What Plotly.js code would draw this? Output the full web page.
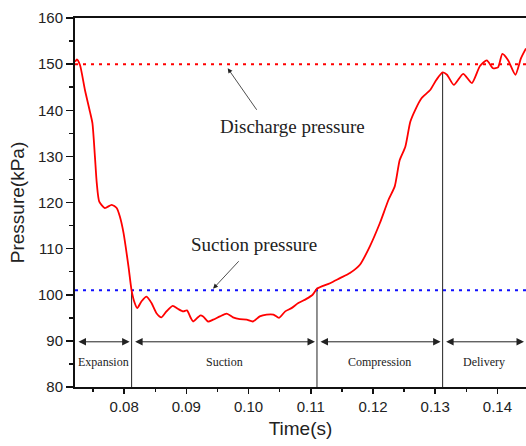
<!DOCTYPE html>
<html>
<head>
<meta charset="utf-8">
<script src="https://cdn.plot.ly/plotly-3.0.1.min.js"></script>
<style>html,body{margin:0;padding:0;background:#fff;}#chart{width:526px;height:446px;}</style>
</head>
<body>
<div id="chart"></div>
<script>
// ---- data ----
const time = [0.0721,0.0724,0.0729,0.0737,0.0745,0.0749,0.0753,0.0756,0.0760,0.0769,0.0780,0.0788,0.0793,0.0799,0.0807,0.0812,0.0817,0.0821,0.0828,0.0836,0.0844,0.0852,0.0860,0.0868,0.0878,0.0887,0.0895,0.0901,0.0907,0.0911,0.0922,0.0927,0.0935,0.0943,0.0954,0.0965,0.0975,0.0986,0.0997,0.1007,0.1018,0.1029,0.1040,0.1049,0.1059,0.1069,0.1080,0.1093,0.1103,0.1110,0.1131,0.1147,0.1163,0.1179,0.1195,0.1211,0.1225,0.1235,0.1243,0.1252,0.1260,0.1268,0.1278,0.1292,0.1302,0.1312,0.1319,0.1330,0.1345,0.1359,0.1372,0.1383,0.1393,0.1401,0.1408,0.1417,0.1429,0.1438,0.1446];
const pressure = [150.5,151.0,149.8,144.4,139.7,137.2,130.0,124.2,120.2,118.8,119.5,118.8,117.0,113.4,106.1,100.9,98.2,97.1,98.6,99.6,98.2,96.0,95.1,96.4,97.6,96.9,96.4,96.6,95.0,94.2,95.5,95.3,94.2,94.6,95.3,95.9,95.1,94.7,94.6,94.2,95.3,95.7,95.7,95.0,96.4,97.1,98.2,99.1,100.0,101.3,102.5,103.6,104.7,106.5,110.5,115.5,120.6,123.5,129.2,132.1,137.5,140.1,142.6,144.4,146.6,148.2,147.7,145.5,147.9,145.9,149.6,150.8,149.1,149.3,152.2,150.9,147.7,151.3,153.4];

const dischargePressure = 150;
const suctionPressure = 101;

const phaseNames = ["Expansion","Suction","Compression","Delivery"];
const phaseBoundaries = [0.0812, 0.1110, 0.1312];     // s
const boundaryTops = [100.9, 101.5, 148.2];           // kPa, where the boundary meets the curve
const phaseArrowLevel = 89.8;                          // kPa
const phaseLabelLevel = 85.4;                          // kPa

const xTickVals = [0.08,0.09,0.10,0.11,0.12,0.13,0.14];
const xTickText = ["0.08","0.09","0.10","0.11","0.12","0.13","0.14"];
const yTickVals = [80,90,100,110,120,130,140,150,160];

const xRange = [0.0721, 0.1446];
const yRange = [80, 160];

// ---- traces ----
const traces = [];
phaseBoundaries.forEach((b,i)=>{
  traces.push({x:[b,b], y:[yRange[0], boundaryTops[i]], mode:'lines',
    line:{color:'#222', width:1}, hoverinfo:'skip', showlegend:false});
});
traces.push({x:xRange, y:[dischargePressure,dischargePressure], mode:'lines',
  line:{color:'#ff0000', width:2, dash:'3px,5px'}, showlegend:false, hoverinfo:'skip'});
traces.push({x:xRange, y:[suctionPressure,suctionPressure], mode:'lines',
  line:{color:'#1010ff', width:2, dash:'3px,5px'}, showlegend:false, hoverinfo:'skip'});
traces.push({x:time, y:pressure, mode:'lines',
  line:{color:'#ff0000', width:1.8, shape:'spline', smoothing:0.6}, showlegend:false});

// ---- annotations ----
const edges = [xRange[0]].concat(phaseBoundaries).concat([xRange[1]]);
const annotations = [];
for (let i=0;i<phaseNames.length;i++){
  const a = edges[i], b = edges[i+1];
  annotations.push({x:b, y:phaseArrowLevel, ax:a, ay:phaseArrowLevel, xref:'x', yref:'y', axref:'x', ayref:'y',
    text:'', showarrow:true, arrowside:'end+start', arrowhead:2, startarrowhead:2, arrowsize:1.5, startarrowsize:1.5,
    arrowwidth:1, arrowcolor:'#222', standoff:2, startstandoff:2});
  annotations.push({x:(a+b)/2, y:phaseLabelLevel, xref:'x', yref:'y', text:phaseNames[i], showarrow:false,
    font:{family:'Liberation Serif, Times New Roman, serif', size:12, color:'#222'}});
}
annotations.push({x:0.09665, y:149.1, xref:'x', yref:'y', text:'', showarrow:true, ax:30, ay:43,
  arrowhead:2, arrowsize:1.2, arrowwidth:0.8, arrowcolor:'#222'});
annotations.push({x:0.1070, y:136.4, xref:'x', yref:'y', text:'Discharge pressure', showarrow:false,
  font:{family:'Liberation Serif, Times New Roman, serif', size:19, color:'#222'}});
annotations.push({x:0.0943, y:101.3, xref:'x', yref:'y', text:'', showarrow:true, ax:27, ay:-29,
  arrowhead:2, arrowsize:1.2, arrowwidth:0.8, arrowcolor:'#222'});
annotations.push({x:0.1009, y:110.8, xref:'x', yref:'y', text:'Suction pressure', showarrow:false,
  font:{family:'Liberation Serif, Times New Roman, serif', size:19, color:'#222'}});

const axisFont = {family:'Liberation Sans, Arial, sans-serif', size:15, color:'#222'};
const layout = {
  width:526, height:446,
  margin:{l:75, r:0, t:18, b:59},
  paper_bgcolor:'#fff', plot_bgcolor:'#fff',
  showlegend:false,
  xaxis:{range:xRange, tickvals:xTickVals, ticktext:xTickText, ticks:'outside', ticklen:5, tickwidth:1.5, tickcolor:'#111',
    minor:{dtick:0.005, tick0:0.075, ticks:'outside', ticklen:3, tickwidth:1.5, tickcolor:'#111'},
    showline:true, linecolor:'#111', linewidth:2, mirror:true, showgrid:false, zeroline:false,
    tickfont:axisFont, title:{text:'Time(s)', font:{family:'Liberation Sans, Arial, sans-serif', size:19, color:'#222'}, standoff:8}},
  yaxis:{range:yRange, tickvals:yTickVals, ticks:'outside', ticklen:7, tickwidth:1.5, tickcolor:'#111',
    minor:{dtick:5, tick0:80, ticks:'outside', ticklen:4, tickwidth:1.5, tickcolor:'#111'},
    showline:true, linecolor:'#111', linewidth:2, mirror:true, showgrid:false, zeroline:false,
    tickfont:axisFont, title:{text:'Pressure(kPa)', font:{family:'Liberation Sans, Arial, sans-serif', size:19, color:'#222'}, standoff:8}},
  annotations:annotations
};
Plotly.newPlot('chart', traces, layout, {displayModeBar:false, staticPlot:true});
</script>
</body>
</html>
